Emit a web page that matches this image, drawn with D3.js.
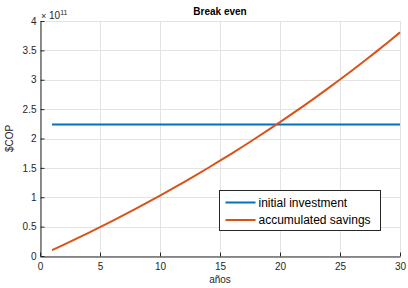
<!DOCTYPE html>
<html>
<head>
<meta charset="utf-8">
<script src="https://cdn.jsdelivr.net/npm/d3@7"></script>
<style>
  body { margin: 0; background: #fff; }
  svg { display: block; font-family: "Liberation Sans", Arial, sans-serif; }
</style>
</head>
<body>
<svg id="chart" width="408" height="288"></svg>
<script>
// years and values (x 1e11 COP)
const years = d3.range(1, 31);
const savings = [0.100, 0.195, 0.292, 0.391, 0.492, 0.595, 0.700, 0.807, 0.916, 1.028,
                 1.142, 1.258, 1.377, 1.498, 1.622, 1.748, 1.877, 2.008, 2.142, 2.279,
                 2.418, 2.560, 2.705, 2.853, 3.004, 3.158, 3.315, 3.475, 3.639, 3.806];
const investment = years.map(() => 2.24);
const xTicks = [0, 5, 10, 15, 20, 25, 30];
const yTicks = [0, 0.5, 1, 1.5, 2, 2.5, 3, 3.5, 4];
const seriesNames = ["initial investment", "accumulated savings"];

const svg = d3.select('#chart');
const margin = {top: 21, right: 8, bottom: 32, left: 40};
const W = 408, H = 288;
const axisColor = "#262626";

const x = d3.scaleLinear().domain([0, 30]).range([margin.left, W - margin.right]);
const y = d3.scaleLinear().domain([0, 4]).range([H - margin.bottom, margin.top]);

// grid
const grid = svg.append('g').attr('stroke', '#e3e3e3').attr('stroke-width', 1);
grid.selectAll('.gx').data(xTicks).join('line')
    .attr('x1', d => Math.round(x(d)) + 0.5).attr('x2', d => Math.round(x(d)) + 0.5)
    .attr('y1', y(0)).attr('y2', y(4));
grid.selectAll('.gy').data(yTicks).join('line')
    .attr('y1', d => Math.round(y(d)) + 0.5).attr('y2', d => Math.round(y(d)) + 0.5)
    .attr('x1', x(0)).attr('x2', x(30));

// lines
const line = d3.line().x((d, i) => x(years[i])).y(d => y(d));
svg.append('path').datum(investment)
    .attr('fill', 'none').attr('stroke', '#0072BD').attr('stroke-width', 2)
    .attr('d', line);
svg.append('path').datum(savings)
    .attr('fill', 'none').attr('stroke', '#D95319').attr('stroke-width', 2)
    .attr('d', line);

// axes
const xAxis = svg.append('g')
    .attr('transform', `translate(0,${Math.round(y(0)) + 0.5})`)
    .call(d3.axisBottom(x).tickValues(xTicks).tickSizeInner(-4).tickSizeOuter(0).tickPadding(6));
const yAxis = svg.append('g')
    .attr('transform', `translate(${Math.round(x(0)) + 0.5},0)`)
    .call(d3.axisLeft(y).tickValues(yTicks).tickFormat(d3.format('')).tickSizeInner(-4).tickSizeOuter(0).tickPadding(6));
[xAxis, yAxis].forEach(a => {
    a.select('.domain').attr('stroke', axisColor);
    a.selectAll('.tick line').attr('stroke', axisColor);
    a.selectAll('.tick text').attr('fill', axisColor).attr('font-size', 10)
        .style('font-family', '"Liberation Sans", Arial, sans-serif');
});
yAxis.selectAll('.tick text').attr('dx', 2);

// exponent
const ex = svg.append('text').attr('x', 41).attr('y', 19).attr('font-size', 10).attr('fill', axisColor);
ex.append('tspan').text('\u00d7').attr('font-size', 9);
ex.append('tspan').text(' 10');
ex.append('tspan').text('11').attr('font-size', 7).attr('dy', -4);

// title and labels
svg.append('text').attr('x', (x(0) + x(30)) / 2).attr('y', 15)
    .attr('text-anchor', 'middle').attr('font-size', 10).attr('font-weight', 'bold')
    .attr('fill', '#000').text('Break even');
svg.append('text').attr('x', (x(0) + x(30)) / 2).attr('y', 283)
    .attr('text-anchor', 'middle').attr('font-size', 10).attr('fill', axisColor).text('años');
svg.append('text')
    .attr('transform', `translate(13,${(y(0) + y(4)) / 2}) rotate(-90)`)
    .attr('text-anchor', 'middle').attr('font-size', 10).attr('fill', axisColor).text('$COP');

// legend
const lg = svg.append('g').attr('transform', 'translate(219.5,190.5)');
lg.append('rect').attr('width', 161).attr('height', 40)
    .attr('fill', '#fff').attr('stroke', axisColor).attr('stroke-width', 1);
const colors = ['#0072BD', '#D95319'];
const rows = lg.selectAll('.row').data(seriesNames).join('g')
    .attr('transform', (d, i) => `translate(0,${12 + i * 17.5})`);
rows.append('line').attr('x1', 6).attr('x2', 36)
    .attr('stroke', (d, i) => colors[i]).attr('stroke-width', 2);
rows.append('text').attr('x', 39).attr('y', 4).attr('font-size', 12)
    .attr('fill', '#000').text(d => d);
</script>
</body>
</html>
